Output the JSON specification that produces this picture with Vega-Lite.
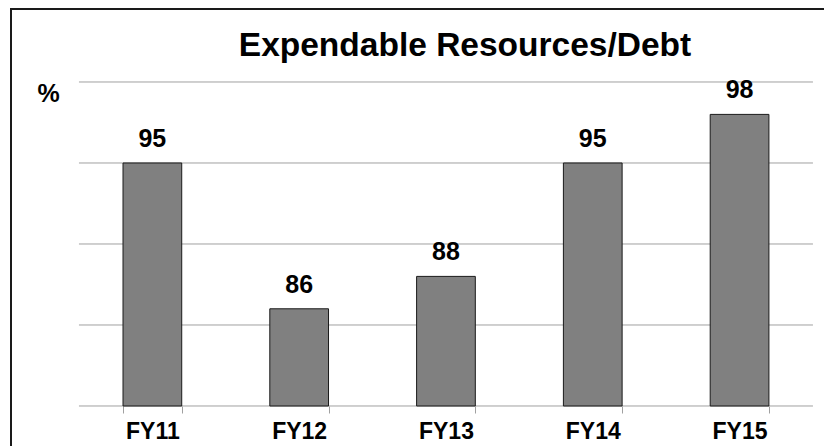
{
  "$schema": "https://vega.github.io/schema/vega-lite/v6.json",
  "width": 815,
  "height": 439,
  "autosize": {"type": "none"},
  "padding": {"left": 11, "top": 9, "right": -2, "bottom": -2},
  "background": "white",
  "config": {
    "view": {"stroke": "#1a1a1a", "strokeWidth": 2},
    "font": "Liberation Sans"
  },
  "title": {
    "text": "Expendable Resources/Debt",
    "fontSize": 33.5,
    "fontWeight": "bold",
    "font": "Liberation Sans",
    "color": "black",
    "anchor": "middle",
    "dx": 46.5,
    "baseline": "alphabetic",
    "offset": -80
  },
  "datasets": {
    "bars": [
      {"year": "FY11", "value": 95},
      {"year": "FY12", "value": 86},
      {"year": "FY13", "value": 88},
      {"year": "FY14", "value": 95},
      {"year": "FY15", "value": 98}
    ],
    "grid": [
      {"g": 80}, {"g": 85}, {"g": 90}, {"g": 95}, {"g": 100}
    ]
  },
  "layer": [
    {
      "data": {"name": "grid"},
      "mark": {"type": "rule", "color": "#a0a0a0", "strokeWidth": 1},
      "encoding": {
        "y": {"field": "g", "type": "quantitative", "scale": {"domain": [77.407, 104.506], "nice": false, "zero": false}},
        "x": {"datum": "FY11", "type": "nominal", "bandPosition": -0.75},
        "x2": {"datum": "FY15", "bandPosition": 1.75}
      }
    },
    {
      "data": {"name": "bars"},
      "mark": {"type": "bar", "fill": "#808080", "stroke": "#1a1a1a", "strokeWidth": 1},
      "encoding": {
        "x": {
          "field": "year",
          "type": "nominal",
          "scale": {"paddingInner": 0.6, "paddingOuter": 0.5759, "align": 0.6624},
          "axis": {
            "title": null,
            "domain": false,
            "grid": false,
            "bandPosition": 0.5,
            "tickBand": "extent",
            "tickSize": 7,
            "tickColor": "#a0a0a0",
            "tickWidth": 1,
            "labelAngle": 0,
            "labelAlign": "center",
            "labelFontSize": 23,
            "labelFontWeight": "bold",
            "labelColor": "black",
            "labelBaseline": "alphabetic",
            "labelPadding": 25,
            "offset": -42
          }
        },
        "y": {
          "field": "value",
          "type": "quantitative",
          "scale": {"domain": [77.407, 104.506], "nice": false, "zero": false},
          "axis": {
            "labels": false,
            "ticks": false,
            "domain": false,
            "grid": false,
            "title": "%",
            "titleAngle": 0,
            "titleX": 37,
            "titleY": 92,
            "titleAlign": "center",
            "titleBaseline": "alphabetic",
            "titleFontSize": 25,
            "titleFontWeight": "bold",
            "titleColor": "black"
          }
        },
        "y2": {"datum": 80}
      }
    },
    {
      "data": {"name": "bars"},
      "mark": {"type": "text", "fontSize": 25, "fontWeight": "bold", "baseline": "alphabetic", "dy": -16, "color": "black"},
      "encoding": {
        "x": {"field": "year", "type": "nominal"},
        "y": {"field": "value", "type": "quantitative"},
        "text": {"field": "value", "type": "quantitative"}
      }
    }
  ]
}
